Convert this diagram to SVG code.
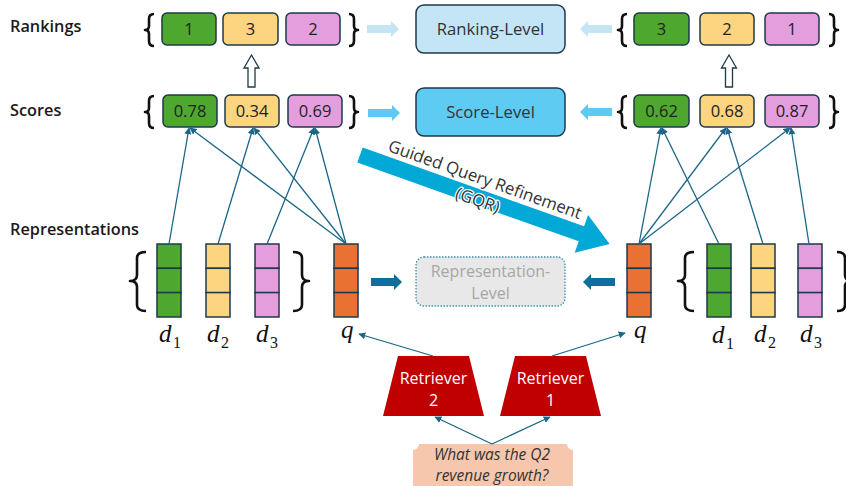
<svg xmlns="http://www.w3.org/2000/svg" width="846" height="486" viewBox="0 0 846 486">
<defs>
<style>
.lbl{font-family:"Open Sans","Noto Sans",sans-serif;font-size:16.3px;font-weight:600;fill:#1a1a1a}
.bx{stroke:#1e3a4a;stroke-width:1.5}
.g{fill:#4ea72e}.y{fill:#fdd47f}.p{fill:#e59edd}.o{fill:#e97132}
.num{font-family:"Open Sans","Noto Sans",sans-serif;font-size:16.5px;fill:#222;text-anchor:middle}
.lvl{font-family:"Open Sans","Noto Sans",sans-serif;font-size:16.7px;fill:#333;text-anchor:middle}
.lv2{font-family:"Open Sans","Noto Sans",sans-serif;font-size:16px;fill:#a6a6a6;text-anchor:middle}
.brace{fill:none;stroke:#111;stroke-width:2.6;stroke-linejoin:round}
.ln{stroke:#1b6688;stroke-width:1.3;fill:none;marker-end:url(#ah)}
.math{font-family:"Liberation Serif","DejaVu Serif",serif;font-style:italic;font-size:25px;fill:#111}
.sub{font-family:"Liberation Serif","DejaVu Serif",serif;font-size:16px;fill:#111}
.cell{stroke:#1e3a4a;stroke-width:1.5}
.hollow{fill:#fff;stroke:#1e3a4a;stroke-width:1.3}
.ret{fill:#c00000}
.rt{font-family:"Open Sans","Noto Sans",sans-serif;font-size:16px;fill:#fff;text-anchor:middle}
.qt{font-family:"Open Sans","Noto Sans",sans-serif;font-style:italic;font-size:15.5px;fill:#333;text-anchor:middle}
.gq{font-family:"Open Sans","Noto Sans",sans-serif;font-size:16.8px;fill:#333;text-anchor:middle;stroke:#fff;stroke-width:2.5;paint-order:stroke;stroke-linejoin:round}
</style>
<marker id="ah" viewBox="0 0 10 10" refX="9" refY="5" markerWidth="7" markerHeight="7" markerUnits="userSpaceOnUse" orient="auto">
<path d="M0,0 L10,5 L0,10 Z" fill="#1b6688"/>
</marker>
</defs>

<text class="lbl" x="10" y="32">Rankings</text>
<text class="lbl" x="10" y="116">Scores</text>
<text class="lbl" x="10" y="235">Representations</text>

<g id="left-rankings">
<path class="brace" d="M154,14 Q149,14 149,19 L149,26 Q149,30 145,30 Q149,30 149,34 L149,41 Q149,46 154,46"/>
<rect class="bx g" x="162" y="13" width="54" height="32" rx="5"/>
<text class="num" x="189" y="35">1</text>
<rect class="bx y" x="223" y="13" width="55" height="32" rx="5"/>
<text class="num" x="250.5" y="35">3</text>
<rect class="bx p" x="286" y="13" width="54" height="32" rx="5"/>
<text class="num" x="313" y="35">2</text>
<path class="brace" d="M349,14 Q354,14 354,19 L354,26 Q354,30 358,30 Q354,30 354,34 L354,41 Q354,46 349,46"/>
</g>

<g id="left-scores">
<path class="brace" d="M154,96 Q149,96 149,101 L149,108 Q149,112 145,112 Q149,112 149,116 L149,123 Q149,128 154,128"/>
<rect class="bx g" x="163" y="95" width="54" height="32" rx="5"/>
<text class="num" x="190" y="117">0.78</text>
<rect class="bx y" x="225" y="95" width="54" height="32" rx="5"/>
<text class="num" x="252" y="117">0.34</text>
<rect class="bx p" x="288" y="95" width="54" height="32" rx="5"/>
<text class="num" x="315" y="117">0.69</text>
<path class="brace" d="M349,96 Q354,96 354,101 L354,108 Q354,112 358,112 Q354,112 354,116 L354,123 Q354,128 349,128"/>
</g>

<g id="left-hollow-arrow">
<path class="hollow" d="M251.5,55 L259,68 L255,68 L255,87 L248,87 L248,68 L244,68 Z"/>
</g>

<g id="right-rankings">
<path class="brace" d="M627,14 Q622,14 622,19 L622,26 Q622,30 618,30 Q622,30 622,34 L622,41 Q622,46 627,46"/>
<rect class="bx g" x="634" y="13" width="55" height="32" rx="5"/>
<text class="num" x="661.5" y="35">3</text>
<rect class="bx y" x="700" y="13" width="54" height="32" rx="5"/>
<text class="num" x="727" y="35">2</text>
<rect class="bx p" x="765" y="13" width="54" height="32" rx="5"/>
<text class="num" x="792" y="35">1</text>
<path class="brace" d="M829,14 Q834,14 834,19 L834,26 Q834,30 838,30 Q834,30 834,34 L834,41 Q834,46 829,46"/>
</g>

<g id="right-scores">
<path class="brace" d="M627,96 Q622,96 622,101 L622,108 Q622,112 618,112 Q622,112 622,116 L622,123 Q622,128 627,128"/>
<rect class="bx g" x="634" y="95" width="55" height="32" rx="5"/>
<text class="num" x="661.5" y="117">0.62</text>
<rect class="bx y" x="700" y="95" width="54" height="32" rx="5"/>
<text class="num" x="727" y="117">0.68</text>
<rect class="bx p" x="765" y="95" width="54" height="32" rx="5"/>
<text class="num" x="792" y="117">0.87</text>
<path class="brace" d="M829,96 Q834,96 834,101 L834,108 Q834,112 838,112 Q834,112 834,116 L834,123 Q834,128 829,128"/>
</g>

<g id="right-hollow-arrow">
<path class="hollow" d="M729,55 L736.5,68 L732.5,68 L732.5,87 L725.5,87 L725.5,68 L721.5,68 Z"/>
</g>

<g id="ranking-level">
<rect x="416" y="5" width="149" height="48" rx="8" fill="#c4e5f5" stroke="#1e3a4a" stroke-width="1.5"/>
<text class="lvl" x="490.5" y="35">Ranking-Level</text>
</g>
<g id="score-level">
<rect x="416" y="88" width="149" height="48" rx="8" fill="#5ecbf3" stroke="#1e3a4a" stroke-width="1.5"/>
<text class="lvl" x="490.5" y="118">Score-Level</text>
</g>
<g id="representation-level">
<rect x="416" y="257" width="149" height="49" rx="8" fill="#e8e8e8" stroke="#3a8fb8" stroke-width="1.3" stroke-dasharray="1.5,1.5"/>
<text class="lv2" x="490.5" y="277">Representation-</text>
<text class="lv2" x="490.5" y="299">Level</text>
</g>

<g id="left-docs">
<path class="brace" d="M146,252 Q137,252 137,258 L137,275 Q137,281 130,281 Q137,281 137,287 L137,305 Q137,311 146,311"/>
<rect class="cell g" x="157" y="244" width="24" height="24.3"/>
<rect class="cell g" x="157" y="268.3" width="24" height="24.3"/>
<rect class="cell g" x="157" y="292.6" width="24" height="24.4"/>
<rect class="cell y" x="206" y="244" width="24" height="24.3"/>
<rect class="cell y" x="206" y="268.3" width="24" height="24.3"/>
<rect class="cell y" x="206" y="292.6" width="24" height="24.4"/>
<rect class="cell p" x="255" y="244" width="24" height="24.3"/>
<rect class="cell p" x="255" y="268.3" width="24" height="24.3"/>
<rect class="cell p" x="255" y="292.6" width="24" height="24.4"/>
<path class="brace" d="M293,252 Q302,252 302,258 L302,275 Q302,281 309,281 Q302,281 302,287 L302,305 Q302,311 293,311"/>
<text class="math" x="159" y="342">d</text><text class="sub" x="173" y="348">1</text>
<text class="math" x="207" y="342">d</text><text class="sub" x="221" y="348">2</text>
<text class="math" x="256" y="342">d</text><text class="sub" x="270" y="348">3</text>
</g>
<g id="left-q">
<rect class="cell o" x="334" y="244" width="24" height="24.3"/>
<rect class="cell o" x="334" y="268.3" width="24" height="24.3"/>
<rect class="cell o" x="334" y="292.6" width="24" height="24.4"/>
<text class="math" x="341" y="338">q</text>
</g>

<g id="right-q">
<rect class="cell o" x="627" y="244" width="24" height="24.3"/>
<rect class="cell o" x="627" y="268.3" width="24" height="24.3"/>
<rect class="cell o" x="627" y="292.6" width="24" height="24.4"/>
<text class="math" x="634" y="338">q</text>
</g>
<g id="right-docs">
<path class="brace" d="M694,252 Q685,252 685,258 L685,275 Q685,281 678,281 Q685,281 685,287 L685,305 Q685,311 694,311"/>
<rect class="cell g" x="707" y="244" width="24" height="24.3"/>
<rect class="cell g" x="707" y="268.3" width="24" height="24.3"/>
<rect class="cell g" x="707" y="292.6" width="24" height="24.4"/>
<rect class="cell y" x="751" y="244" width="24" height="24.3"/>
<rect class="cell y" x="751" y="268.3" width="24" height="24.3"/>
<rect class="cell y" x="751" y="292.6" width="24" height="24.4"/>
<rect class="cell p" x="798" y="244" width="24" height="24.3"/>
<rect class="cell p" x="798" y="268.3" width="24" height="24.3"/>
<rect class="cell p" x="798" y="292.6" width="24" height="24.4"/>
<path class="brace" d="M837,252 Q845,252 845,258 L845,275 Q845,281 852,281 Q845,281 845,287 L845,305 Q845,311 837,311"/>
<text class="math" x="712" y="343">d</text><text class="sub" x="726" y="349">1</text>
<text class="math" x="754" y="342">d</text><text class="sub" x="768" y="348">2</text>
<text class="math" x="800" y="342">d</text><text class="sub" x="814" y="348">3</text>
</g>

<g id="retriever-2">
<path class="ret" d="M398,356 L469,356 L484,416 L383,416 Z"/>
<text class="rt" x="433.5" y="384">Retriever</text>
<text class="rt" x="433.5" y="406">2</text>
</g>
<g id="retriever-1">
<path class="ret" d="M515,356 L586,356 L601,416 L500,416 Z"/>
<text class="rt" x="550.5" y="384">Retriever</text>
<text class="rt" x="550.5" y="406">1</text>
</g>

<g id="question">
<path d="M419,444 H567 A6,6 0 0 0 573,450 V486 H413 V450 A6,6 0 0 0 419,444 Z" fill="#f7c7ad"/>
<text class="qt" x="492" y="460">What was the Q2</text>
<text class="qt" x="492" y="481">revenue growth?</text>
</g>

<g id="gqr" transform="translate(360,155) rotate(19.6)">
<path d="M0,-8 L235,-8 L235,-20 L265,0 L235,20 L235,8 L0,8 Z" fill="#02a8d6"/>
<text class="gq" x="126" y="-13">Guided Query Refinement</text>
<text class="gq" x="126" y="9">(GQR)</text>
</g>

<g id="connectors">
<path d="M367,25 H391 V21 L399,29 L391,37 V33 H367 Z" fill="#c3e5f4"/>
<path d="M368,109 H392 V105 L400,113 L392,121 V117 H368 Z" fill="#5ec9f1"/>
<path d="M371,278 H394 V274 L402,282 L394,290 V286 H371 Z" fill="#0e6f9b"/>
<path d="M612,25 H588 V21 L580,29 L588,37 V33 H612 Z" fill="#c3e5f4"/>
<path d="M612,108 H588 V104 L580,112 L588,120 V116 H612 Z" fill="#5ec9f1"/>
<path d="M615,278 H591 V274 L583,282 L591,290 V286 H615 Z" fill="#0e6f9b"/>
<line class="ln" x1="169" y1="244" x2="189" y2="128"/>
<line class="ln" x1="218" y1="244" x2="253" y2="128"/>
<line class="ln" x1="267" y1="244" x2="314" y2="128"/>
<line class="ln" x1="346" y1="244" x2="190" y2="128"/>
<line class="ln" x1="346" y1="244" x2="254" y2="128"/>
<line class="ln" x1="346" y1="244" x2="315" y2="128"/>
<line class="ln" x1="639" y1="244" x2="661" y2="128"/>
<line class="ln" x1="639" y1="244" x2="726" y2="128"/>
<line class="ln" x1="639" y1="244" x2="790" y2="128"/>
<line class="ln" x1="719" y1="244" x2="662" y2="128"/>
<line class="ln" x1="763" y1="244" x2="727" y2="128"/>
<line class="ln" x1="809" y1="244" x2="791" y2="128"/>
<line class="ln" x1="433" y1="356" x2="359" y2="334"/>
<line class="ln" x1="552" y1="356" x2="625" y2="333"/>
<line class="ln" x1="492" y1="444" x2="435" y2="417"/>
<line class="ln" x1="492" y1="444" x2="550" y2="417"/>
</g>
</svg>
